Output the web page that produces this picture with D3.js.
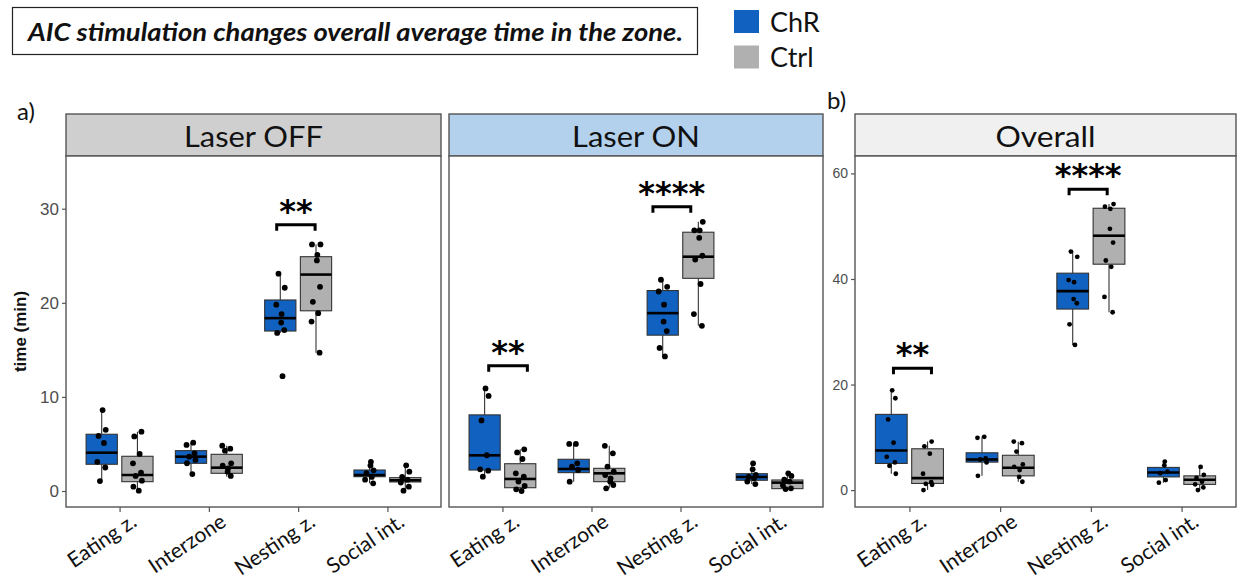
<!DOCTYPE html>
<html><head><meta charset="utf-8">
<script src="https://cdn.jsdelivr.net/npm/d3@7"></script>
<style>body{margin:0;background:#fff}svg{display:block}</style>
</head><body>
<script>
// ---------- DATA ----------
const categories = ["Eating z.", "Interzone", "Nesting z.", "Social int."];
const groups = ["ChR", "Ctrl"];
const panelNames = ["Laser OFF", "Laser ON", "Overall"];
const ticksA = [0, 10, 20, 30];
const ticksB = [0, 20, 40, 60];

// box stats per category: [lowWhisker, q1, median, q3, highWhisker]
const offChR  = [[1.06,2.84,4.07,6.03,8.6],[1.8,2.94,3.65,4.29,5.18],[16.8,17.0,18.37,20.3,23.1],[0.82,1.52,1.7,2.23,3.1]];
const offCtrl = [[0,0.99,1.7,3.69,6.3],[1.52,1.88,2.48,3.9,4.82],[14.7,19.15,23.0,24.9,26.2],[0,0.96,1.14,1.42,2.73]];
const onChR   = [[1.52,2.23,3.79,8.09,10.9],[0.99,1.95,2.34,3.37,5.0],[14.3,16.56,18.9,21.3,22.45],[0.74,1.14,1.49,1.84,2.94]];
const onCtrl  = [[0,0.35,1.28,2.9,4.43],[0.28,0.99,1.88,2.41,4.8],[17.55,22.6,24.9,27.5,28.6],[0.2,0.25,0.89,1.17,1.88]];
const allChR  = [[3.1,5.05,7.5,14.35,18.9],[2.7,5.3,5.8,7.07,10.1],[27.5,34.3,37.7,41.1,45.2],[1.4,2.5,3.35,4.3,5.4]];
const allCtrl = [[0,1.26,2.27,7.83,9.2],[1.58,2.7,4.23,6.6,9.16],[33.7,42.8,48.2,53.4,54.2],[0,1.08,1.96,2.7,4.4]];

// individual animals (minutes)
const offChRPts  = [[8.6,6.5,5.85,5.1,3.1,2.5,1.06],[5.14,4.9,4.0,3.65,3.3,2.95,1.8],[23.1,21.6,19.8,18.8,17.9,17.1,16.8,12.2],[3.1,2.7,2.2,1.9,1.5,1.2,0.82]];
const offCtrlPts = [[6.3,5.8,3.94,2.94,1.95,1.6,1.1,0.46,0.03],[4.82,4.5,4.29,2.94,2.7,2.4,2.05,1.6],[26.2,26.2,25.1,24.5,21.7,20.1,18.9,18.0,14.7],[2.73,2.05,1.5,1.2,0.9,0.46,0.03]];
const onChRPts   = [[10.9,10.1,7.5,3.8,2.3,2.16,1.52],[5.0,5.0,2.94,2.6,2.23,0.99],[22.45,21.7,21.2,19.8,18.0,17.0,15.2,14.3],[2.94,2.3,1.7,1.5,1.35,1.0,0.74]];
const onCtrlPts  = [[4.43,4.1,3.4,1.88,1.52,1.0,0.53,0.18,0.0],[4.8,4.0,2.6,2.05,1.7,1.35,1.0,0.64,0.28],[28.6,27.7,27.7,26.9,25.0,24.6,22.0,18.8,17.55],[1.88,1.6,1.2,1.0,0.6,0.28,0.2]];
const allChRPts  = [[18.9,17.4,13.4,8.97,6.3,5.25,4.6,3.1],[10.1,9.9,6.0,5.8,5.25,2.7],[45.2,44.2,39.8,39.4,36.2,35.4,31.4,27.5],[5.4,4.7,3.5,3.2,1.9,1.4]];
const allCtrlPts = [[9.2,8.3,6.9,3.1,1.5,1.2,1.0,0],[9.2,8.9,7.3,4.87,4.4,3.8,2.5,1.58],[54.2,53.7,53.3,49.5,46.9,43.5,42.3,36.6,33.7],[4.4,2.9,2.3,1.6,1.1,0.5,0]];

// significance brackets (x in category units, 1-based; y in minutes)
const sigPanel = ["Laser OFF", "Laser ON", "Laser ON", "Overall", "Overall"];
const sigXmin  = [2.76, 0.846, 2.69, 0.824, 2.76];
const sigXmax  = [3.19, 1.28, 3.115, 1.243, 3.18];
const sigY     = [28.3, 13.3, 30.2, 23.1, 57.0];
const sigLabel = ["**", "**", "****", "**", "****"];

const title = "AIC stimulation changes overall average time in the zone.";

// ---------- LAYOUT ----------
const W = 1237, H = 581;
const colors = {ChR: "#1061C0", Ctrl: "#B0B0B0"};
const stripFill = {"Laser OFF": "#D0CFCF", "Laser ON": "#B3D0EC", "Overall": "#F0F0F0"};
const plotTop = 156, plotBottom = 507, stripTop = 114;
const panels = [
  {name: "Laser OFF", x0: 66, x1: 441, dom: [-1.7, 35.6], stats: [offChR, offCtrl], pts: [offChRPts, offCtrlPts], ticks: ticksA, yaxis: true, tickFont: 17, r: 2.9, tl: 139},
  {name: "Laser ON", x0: 449, x1: 823, dom: [-1.7, 35.6], stats: [onChR, onCtrl], pts: [onChRPts, onCtrlPts], ticks: ticksA, yaxis: false, tickFont: 17, r: 2.9, tl: 128},
  {name: "Overall", x0: 855, x1: 1236, dom: [-3.2, 63.3], stats: [allChR, allCtrl], pts: [allChRPts, allCtrlPts], ticks: ticksB, yaxis: true, tickFont: 14, r: 2.4, tl: 100}
];
const jit = [0.01, 0.045, -0.035, 0.025, -0.05, 0.04, -0.02, 0.05, -0.045, 0.015];
const dodge = [-0.2, 0.2], boxW = 0.35;

const svg = d3.select("body").append("svg").attr("width", W).attr("height", H)
  .style("font-family", "Lato, 'Open Sans', sans-serif");

// title box
svg.append("rect").attr("x", 12.5).attr("y", 7.5).attr("width", 685).attr("height", 47)
  .attr("fill", "#fff").attr("stroke", "#222").attr("stroke-width", 1.2);
svg.append("text").attr("x", 28).attr("y", 41).text(title)
  .attr("font-size", 25).attr("font-weight", "bold").attr("font-style", "italic")
  .attr("textLength", 655).attr("lengthAdjust", "spacingAndGlyphs").attr("fill", "#111");

// legend
const lg = svg.append("g");
groups.forEach((g, i) => {
  lg.append("rect").attr("x", 734).attr("y", 10 + i * 35.5).attr("width", 25).attr("height", 23).attr("fill", colors[g]);
  lg.append("text").attr("x", 770).attr("y", 32 + i * 35).text(g).attr("font-size", 27).attr("fill", "#111");
});

// panel letters
svg.append("text").attr("x", 17).attr("y", 120).text("a)").attr("font-size", 24).attr("fill", "#111");
svg.append("text").attr("x", 827).attr("y", 109).text("b)").attr("font-size", 24).attr("fill", "#111");

// y-axis title
svg.append("text").attr("transform", `translate(26,${(plotTop + plotBottom) / 2}) rotate(-90)`)
  .attr("text-anchor", "middle").text("time (min)")
  .attr("font-family", "'Liberation Sans', Arial, sans-serif").attr("font-weight", "bold").attr("font-size", 17).attr("fill", "#111");

panels.forEach(p => {
  const x = d3.scaleLinear().domain([0.4, categories.length + 0.6]).range([p.x0, p.x1]);
  const y = d3.scaleLinear().domain(p.dom).range([plotBottom, plotTop]);
  const g = svg.append("g");

  // strip
  g.append("rect").attr("x", p.x0).attr("y", stripTop).attr("width", p.x1 - p.x0).attr("height", plotTop - stripTop)
    .attr("fill", stripFill[p.name]).attr("stroke", "#555").attr("stroke-width", 1.4);
  g.append("text").attr("x", (p.x0 + p.x1) / 2).attr("y", 147).attr("text-anchor", "middle")
    .text(p.name).attr("font-size", 29).attr("fill", "#111")
    .attr("textLength", p.tl).attr("lengthAdjust", "spacingAndGlyphs");

  // panel background + border
  g.append("rect").attr("x", p.x0).attr("y", plotTop).attr("width", p.x1 - p.x0).attr("height", plotBottom - plotTop)
    .attr("fill", "#fff").attr("stroke", "#555").attr("stroke-width", 1.4);

  // x axis
  const xa = g.append("g").attr("transform", `translate(0,${plotBottom})`)
    .call(d3.axisBottom(x).tickValues(categories.map((c, i) => i + 1)).tickFormat(v => categories[v - 1]).tickSize(5).tickSizeOuter(0));
  xa.select(".domain").remove();
  xa.selectAll(".tick line").attr("stroke", "#555").attr("stroke-width", 1.2);
  xa.selectAll(".tick text").attr("font-size", 21).attr("fill", "#111")
    .attr("font-family", "Lato, sans-serif")
    .attr("text-anchor", "end").attr("dy", null).attr("y", 0)
    .attr("transform", "translate(18,18) rotate(-34)");

  // y axis
  if (p.yaxis) {
    const ya = g.append("g").attr("transform", `translate(${p.x0},0)`)
      .call(d3.axisLeft(y).tickValues(p.ticks).tickSize(4).tickPadding(3));
    ya.select(".domain").remove();
    ya.selectAll(".tick line").attr("stroke", "#555").attr("stroke-width", 1.2);
    ya.selectAll(".tick text").attr("font-size", p.tickFont).attr("fill", "#4D4D4D")
      .attr("font-family", "'Liberation Sans', Arial, sans-serif");
  }

  // boxes
  const half = (x(1 + boxW) - x(1)) / 2;
  groups.forEach((grp, gi) => {
    categories.forEach((c, ci) => {
      const s = p.stats[gi][ci];
      const cx = x(ci + 1 + dodge[gi]);
      g.append("line").attr("x1", cx).attr("x2", cx).attr("y1", y(s[3])).attr("y2", y(s[4])).attr("stroke", "#333").attr("stroke-width", 1.1);
      g.append("line").attr("x1", cx).attr("x2", cx).attr("y1", y(s[1])).attr("y2", y(s[0])).attr("stroke", "#333").attr("stroke-width", 1.1);
      g.append("rect").attr("x", cx - half).attr("y", y(s[3])).attr("width", 2 * half).attr("height", y(s[1]) - y(s[3]))
        .attr("fill", colors[grp]).attr("stroke", "#333").attr("stroke-width", 1.1);
      g.append("line").attr("x1", cx - half).attr("x2", cx + half).attr("y1", y(s[2])).attr("y2", y(s[2])).attr("stroke", "#000").attr("stroke-width", 2.6);
    });
  });

  // points
  groups.forEach((grp, gi) => {
    categories.forEach((c, ci) => {
      p.pts[gi][ci].forEach((v, k) => {
        g.append("circle").attr("cx", x(ci + 1 + dodge[gi] + jit[(k + ci * 3 + gi) % jit.length]))
          .attr("cy", y(v)).attr("r", p.r).attr("fill", "#000");
      });
    });
  });

  // significance
  sigPanel.forEach((sp, i) => {
    if (sp !== p.name) return;
    const xa0 = x(sigXmin[i]), xa1 = x(sigXmax[i]), yy = y(sigY[i]);
    g.append("path").attr("d", `M${xa0},${yy + 6}V${yy}H${xa1}V${yy + 6}`)
      .attr("fill", "none").attr("stroke", "#000").attr("stroke-width", 3);
    g.append("text").attr("x", (xa0 + xa1) / 2).attr("y", yy - 3).attr("text-anchor", "middle")
      .text(sigLabel[i]).attr("font-size", 32).attr("font-weight", "bold")
      .attr("font-family", "'DejaVu Sans', sans-serif").attr("fill", "#000");
  });
});
</script>
</body></html>
